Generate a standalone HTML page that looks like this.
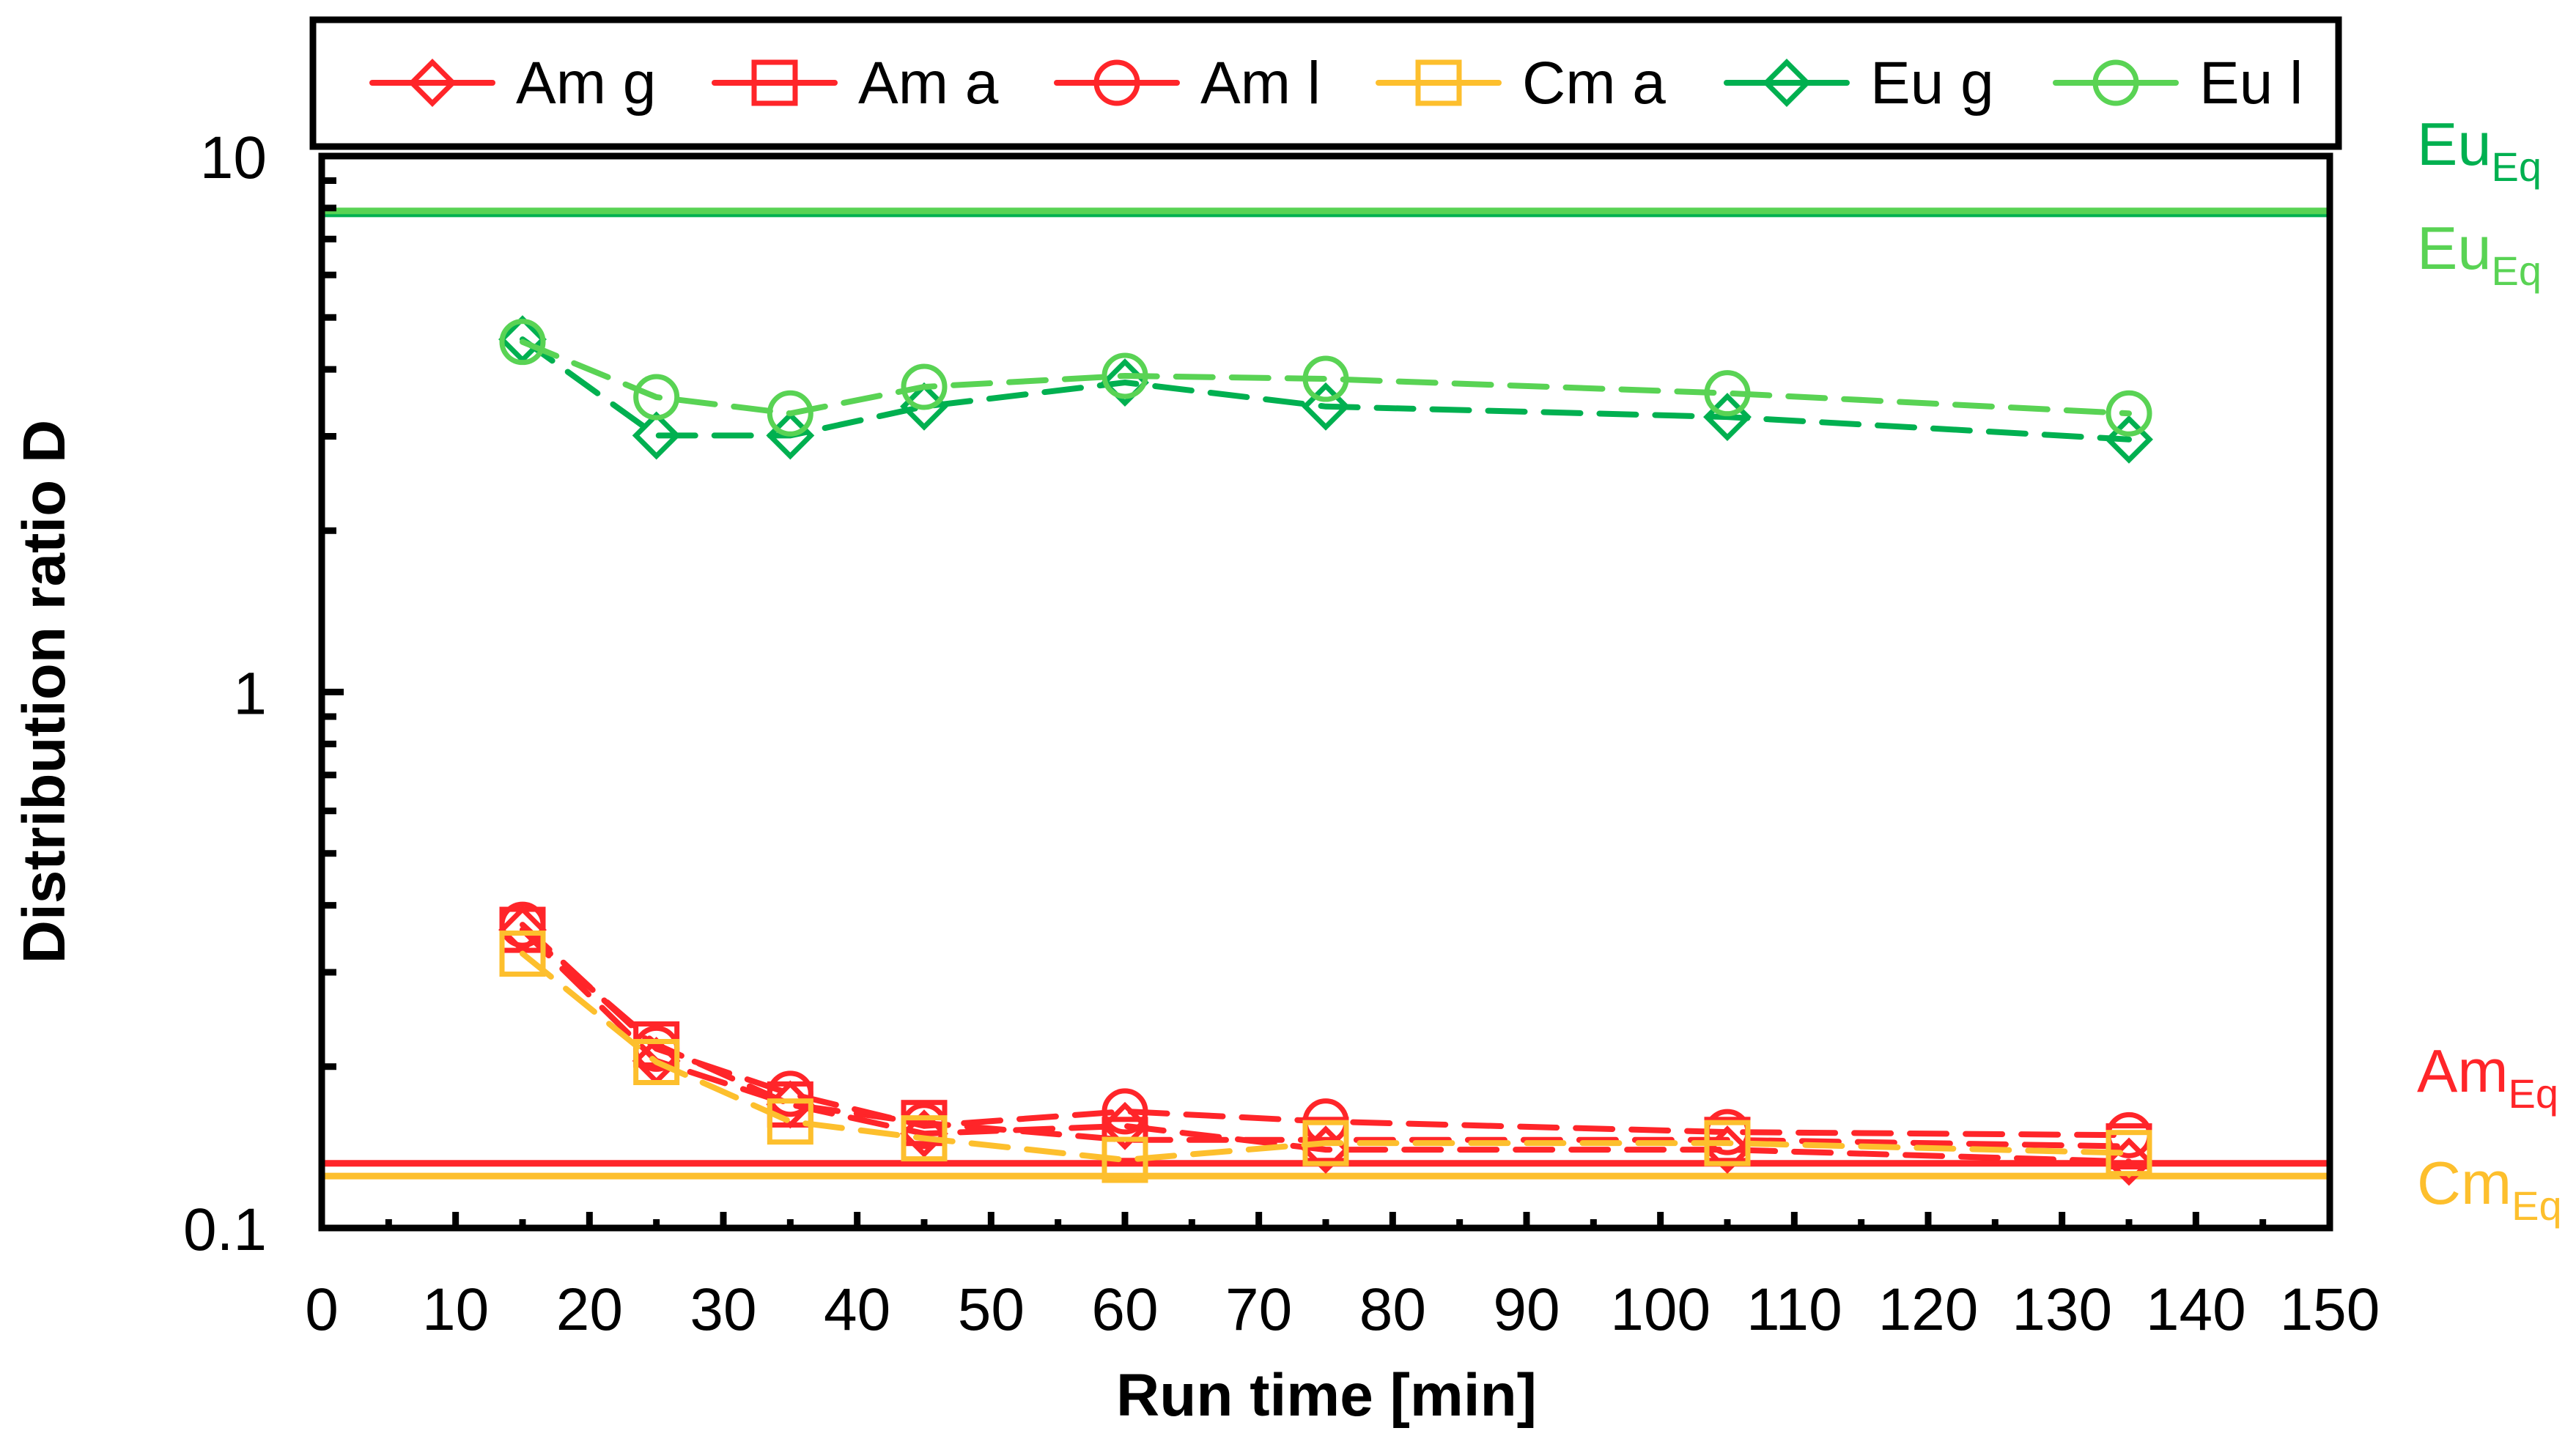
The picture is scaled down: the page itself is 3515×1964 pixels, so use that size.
<!DOCTYPE html>
<html><head><meta charset="utf-8"><style>
html,body{margin:0;padding:0;background:#fff;}
svg{display:block;font-family:"Liberation Sans",Arial,sans-serif;}
</style></head><body>
<svg id="chart" xmlns="http://www.w3.org/2000/svg" width="3515" height="1964" viewBox="0 0 3515 1964">
<rect x="0" y="0" width="3515" height="1964" fill="#fff"/>
<g id="plot"></g>
</svg>
<script>
const runTimes = [15, 25, 35, 45, 60, 75, 105, 135];
const amG = [0.36, 0.205, 0.17, 0.15, 0.155, 0.14, 0.14, 0.133];
const amA = [0.36, 0.22, 0.17, 0.157, 0.146, 0.146, 0.146, 0.142];
const amL = [0.368, 0.216, 0.178, 0.155, 0.165, 0.158, 0.151, 0.149];
const cmA = [0.325, 0.204, 0.158, 0.147, 0.134, 0.144, 0.144, 0.138];
const euG = [4.55, 3.01, 3.01, 3.41, 3.78, 3.41, 3.26, 2.96];
const euL = [4.5, 3.55, 3.31, 3.71, 3.89, 3.84, 3.61, 3.31];
const eqEuG = 7.8;
const eqEuL = 7.9;
const eqAm = 0.132;
const eqCm = 0.125;
const xTicks = [0,10,20,30,40,50,60,70,80,90,100,110,120,130,140,150];
const yTickLabels = ["0.1","1","10"];

const NS = "http://www.w3.org/2000/svg";
const g = document.getElementById('plot');
const X0 = 439, X1 = 3179, Y0 = 1676, Y1 = 213;
function xs(v){ return X0 + (v/150)*(X1-X0); }
function ys(v){ return Y0 - (Math.log10(v)+1)/2*(Y0-Y1); }
function el(tag, attrs, parent){
  const e = document.createElementNS(NS, tag);
  for (const k in attrs) e.setAttribute(k, attrs[k]);
  (parent||g).appendChild(e);
  return e;
}
const RED="#ff2529", YEL="#fdbf2d", DG="#00b050", LG="#59d354";

const eqs = [[eqEuG, DG, 'eu-g-equilibrium-line'],[eqEuL, LG, 'eu-l-equilibrium-line'],[eqAm, RED, 'am-equilibrium-line'],[eqCm, YEL, 'cm-equilibrium-line']];
eqs.forEach(q=>{
  const l = el('line',{x1:X0,x2:X1,y1:ys(q[0]),y2:ys(q[0]),stroke:q[1],'stroke-width':9});
  
  
});

function marker(type, cx, cy, color, parent){
  const r = 28;
  let m;
  if (type==='d') m = el('polygon',{points:`${cx},${cy-r} ${cx+r},${cy} ${cx},${cy+r} ${cx-r},${cy}`,fill:'none',stroke:color,'stroke-width':7},parent);
  else if (type==='s') m = el('rect',{x:cx-r,y:cy-r,width:2*r,height:2*r,fill:'none',stroke:color,'stroke-width':7},parent);
  else m = el('circle',{cx:cx,cy:cy,r:r,fill:'none',stroke:color,'stroke-width':7},parent);
  return m;
}
const series = [
  [amG,'d',RED,'am-g'],[amA,'s',RED,'am-a'],[amL,'c',RED,'am-l'],[cmA,'s',YEL,'cm-a'],[euG,'d',DG,'eu-g'],[euL,'c',LG,'eu-l']
];
series.forEach(s=>{
  const grp = el('g',{});
  
  
  const pts = runTimes.map((t,i)=>xs(t)+','+ys(s[0][i])).join(' ');
  const pl = el('polyline',{points:pts,fill:'none',stroke:s[2],'stroke-width':8,'stroke-dasharray':'50 26','stroke-linecap':'round'},grp);
  
  
  runTimes.forEach((t,i)=>{
    const m = marker(s[1], xs(t), ys(s[0][i]), s[2], grp);
    
    
  });
});

const box = el('rect',{x:X0,y:Y1,width:X1-X0,height:Y0-Y1,fill:'none',stroke:'#000','stroke-width':9});



xTicks.forEach(v=>{
  const x = xs(v);
  el('line',{x1:x,x2:x,y1:Y0,y2:Y0-22,stroke:'#000','stroke-width':9});
  if (v<150) el('line',{x1:xs(v+5),x2:xs(v+5),y1:Y0,y2:Y0-12,stroke:'#000','stroke-width':9});
  const t = el('text',{x:x,y:1815,'font-size':82,'text-anchor':'middle',fill:'#000'});
  t.textContent = v;
  
  
});
for (let d=-1; d<=0; d++){
  for (let k=2;k<=9;k++){
    const y = ys(k*Math.pow(10,d));
    el('line',{x1:X0,x2:X0+20,y1:y,y2:y,stroke:'#000','stroke-width':9});
  }
}
yTickLabels.forEach(lbl=>{
  const y = ys(parseFloat(lbl));
  el('line',{x1:X0,x2:X0+30,y1:y,y2:y,stroke:'#000','stroke-width':9});
  const t = el('text',{x:364,y:y+30,'font-size':82,'text-anchor':'end',fill:'#000'});
  t.textContent = lbl;
  
  
});

const xt = el('text',{x:1810,y:1932,'font-size':82,'font-weight':'bold','text-anchor':'middle',fill:'#000'});
xt.textContent = 'Run time [min]';


const yt = el('text',{x:0,y:0,'font-size':82,'font-weight':'bold','text-anchor':'middle',fill:'#000',transform:'translate(88,944) rotate(-90)'});
yt.textContent = 'Distribution  ratio D';



const eqLabels = [[225,DG,'Eu','eu-g-eq-label'],[367,LG,'Eu','eu-l-eq-label'],[1490,RED,'Am','am-eq-label'],[1643,YEL,'Cm','cm-eq-label']];
eqLabels.forEach(q=>{
  const t = el('text',{x:3298,y:q[0],'font-size':83,fill:q[1]});
  
  
  const a = el('tspan',{},t); a.textContent = q[2];
  const b = el('tspan',{'font-size':56,dy:22},t); b.textContent = 'Eq';
});

const lg = el('g',{});


el('rect',{x:427,y:27,width:3191-427,height:173,fill:'#fff',stroke:'#000','stroke-width':9},lg);
const legendNames = ['Am g','Am a','Am l','Cm a','Eu g','Eu l'];
const legendX = [590,1057,1524,1963,2438,2887];
series.forEach((s,i)=>{
  const eg = el('g',{},lg);
  
  
  const cx = legendX[i], cy = 113;
  el('line',{x1:cx-82,x2:cx+82,y1:cy,y2:cy,stroke:s[2],'stroke-width':8,'stroke-linecap':'round'},eg);
  marker(s[1],cx,cy,s[2],eg);
  const t = el('text',{x:cx+114,y:141,'font-size':82,fill:'#000'},eg);
  t.textContent = legendNames[i];
});
</script>
</body></html>
